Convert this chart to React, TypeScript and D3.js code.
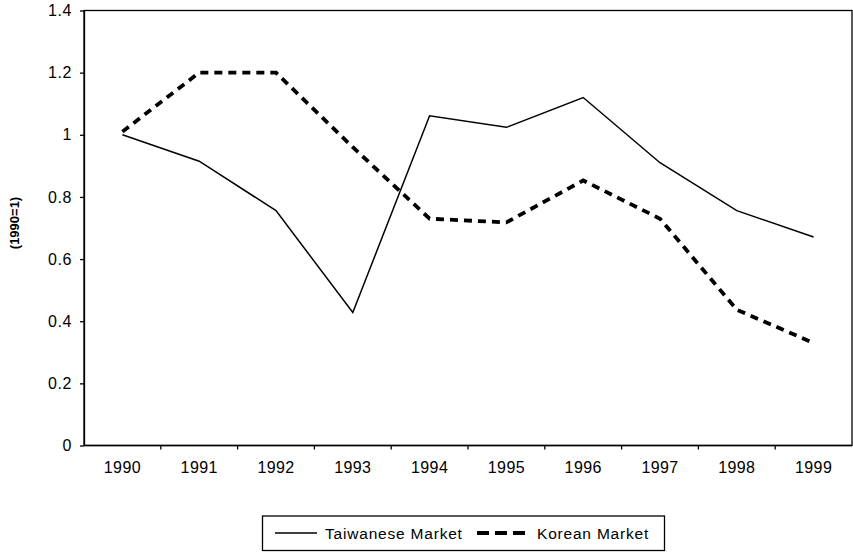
import { useEffect, useRef } from 'react';
import * as d3 from 'd3';

const years = ['1990', '1991', '1992', '1993', '1994', '1995', '1996', '1997', '1998', '1999'];
const taiwanese = [1.0, 0.915, 0.756, 0.428, 1.061, 1.024, 1.12, 0.91, 0.756, 0.671];
const korean = [1.01, 1.2, 1.2, 0.96, 0.73, 0.718, 0.853, 0.73, 0.437, 0.33];
const yTicks = [0, 0.2, 0.4, 0.6, 0.8, 1, 1.2, 1.4];
const seriesNames = ['Taiwanese Market', 'Korean Market'];

const W = 853;
const H = 554;
const left = 84;
const right = 852;
const top = 10.5;
const bottom = 445.5;
const font = '"Liberation Sans", Arial, sans-serif';

const App = () => {
  const svgRef = useRef<SVGSVGElement>(null);

  useEffect(() => {
    const svg = d3.select(svgRef.current);
    svg.selectAll('*').remove();

    const x = d3.scaleBand().domain(years).range([left, right]);
    const y = d3.scaleLinear().domain([0, 1.4]).range([bottom, top]);

    // frame
    svg
      .append('rect')
      .attr('x', left)
      .attr('y', top)
      .attr('width', right - left)
      .attr('height', bottom - top)
      .attr('fill', 'none')
      .attr('stroke', '#000')
      .attr('stroke-width', 1.3);

    const yAxis = svg
      .append('g')
      .attr('transform', `translate(${left},0)`)
      .call(d3.axisLeft(y).tickValues(yTicks).tickSize(4).tickSizeOuter(0).tickFormat((d) => String(d)));
    yAxis.select('.domain').attr('stroke-width', 1.3);
    yAxis.selectAll('line').attr('stroke-width', 1.3);
    yAxis
      .selectAll('text')
      .attr('x', -12)
      .attr('font-family', font)
      .attr('font-size', 16)
      .attr('letter-spacing', 0.6)
      .attr('fill', '#000');

    // x axis, ticks between categories
    const xg = svg.append('g');
    xg.append('line')
      .attr('x1', left)
      .attr('x2', right)
      .attr('y1', bottom)
      .attr('y2', bottom)
      .attr('stroke', '#000')
      .attr('stroke-width', 1.3);
    xg.selectAll('line.tick')
      .data(years.slice(1))
      .enter()
      .append('line')
      .attr('class', 'tick')
      .attr('x1', (d) => x(d)!)
      .attr('x2', (d) => x(d)!)
      .attr('y1', bottom)
      .attr('y2', bottom + 4)
      .attr('stroke', '#000')
      .attr('stroke-width', 1.3);
    xg.selectAll('text')
      .data(years)
      .enter()
      .append('text')
      .attr('x', (d) => x(d)! + x.bandwidth() / 2)
      .attr('y', bottom + 27.5)
      .attr('text-anchor', 'middle')
      .attr('font-family', font)
      .attr('font-size', 16)
      .attr('letter-spacing', 0.4)
      .text((d) => d);

    // y label
    svg
      .append('text')
      .attr('transform', `translate(19,223) rotate(-90)`)
      .attr('text-anchor', 'middle')
      .attr('font-family', font)
      .attr('font-size', 13)
      .attr('font-weight', 'bold')
      .text('(1990=1)');

    const line = d3
      .line<number>()
      .x((_, i) => x(years[i])! + x.bandwidth() / 2)
      .y((d) => y(d));

    svg
      .append('path')
      .datum(taiwanese)
      .attr('d', line)
      .attr('fill', 'none')
      .attr('stroke', '#000')
      .attr('stroke-width', 1.5);

    svg
      .append('path')
      .datum(korean)
      .attr('d', line)
      .attr('fill', 'none')
      .attr('stroke', '#000')
      .attr('stroke-width', 3.8)
      .attr('stroke-dasharray', '8,6');

    // legend
    const lg = svg.append('g');
    lg.append('rect')
      .attr('x', 262.5)
      .attr('y', 516)
      .attr('width', 402)
      .attr('height', 34.5)
      .attr('fill', '#fff')
      .attr('stroke', '#000')
      .attr('stroke-width', 1.3);
    lg.append('line')
      .attr('x1', 275)
      .attr('x2', 317)
      .attr('y1', 533)
      .attr('y2', 533)
      .attr('stroke', '#000')
      .attr('stroke-width', 1.5);
    lg.append('text')
      .attr('x', 325)
      .attr('y', 538.5)
      .attr('font-family', font)
      .attr('font-size', 15.5)
      .attr('letter-spacing', 0.8)
      .text(seriesNames[0]);
    lg.append('line')
      .attr('x1', 477)
      .attr('x2', 526)
      .attr('y1', 533)
      .attr('y2', 533)
      .attr('stroke', '#000')
      .attr('stroke-width', 3.8)
      .attr('stroke-dasharray', '12,6');
    lg.append('text')
      .attr('x', 537)
      .attr('y', 538.5)
      .attr('font-family', font)
      .attr('font-size', 15.5)
      .attr('letter-spacing', 0.8)
      .text(seriesNames[1]);
  }, []);

  return (
    <svg
      ref={svgRef}
      width={W}
      height={H}
      style={{ position: 'absolute', left: 0, top: 0, background: '#fff' }}
    />
  );
};

export default App;
